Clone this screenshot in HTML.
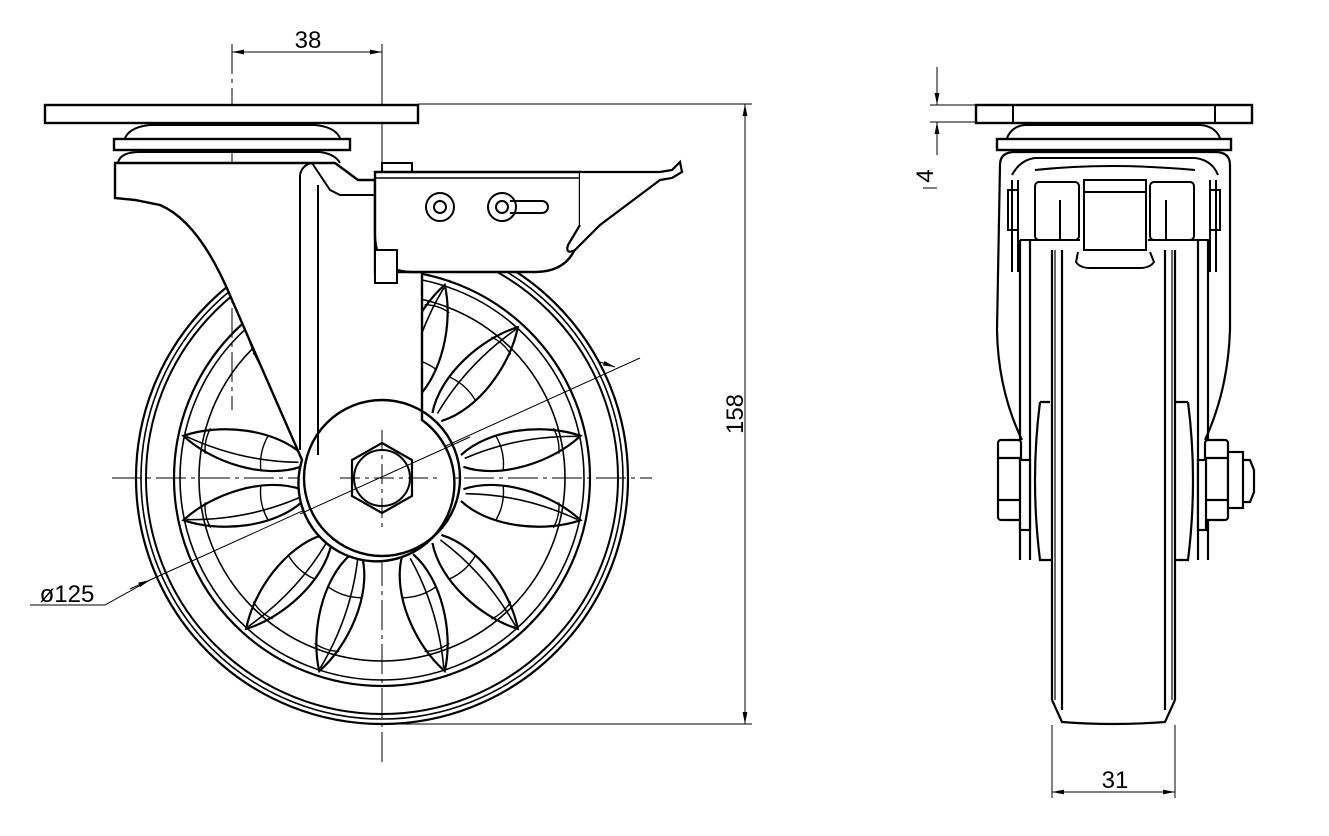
<!DOCTYPE html>
<html><head><meta charset="utf-8"><style>
html,body{margin:0;padding:0;background:#fff}
svg{display:block}
text{font-family:"Liberation Sans",sans-serif;fill:#000}
</style></head><body>
<svg width="1329" height="836" viewBox="0 0 1329 836" xmlns="http://www.w3.org/2000/svg">
<defs>
<marker id="ar" viewBox="0 0 10 4" refX="10" refY="2" markerWidth="12" markerHeight="5" orient="auto-start-reverse" markerUnits="userSpaceOnUse"><path d="M0,0 L10,2 L0,4 Z" fill="#000"/></marker>
<g id="prong">
<path d="M82,-6 C115,-26 170,-20 203,0 C170,20 115,26 82,6" fill="none" stroke="#000" stroke-width="2.2"/>
<path d="M85,-2 C125,-10 165,-8 200,0" fill="none" stroke="#000" stroke-width="1.6"/>
<path d="M178,-13 Q182,0 178,13" fill="none" stroke="#000" stroke-width="1.4"/>
<path d="M120,-18 Q126,0 120,18" fill="none" stroke="#000" stroke-width="1.4"/>
</g>
</defs>
<g stroke="#000" stroke-width="1" fill="none">
<line x1="232" y1="44" x2="232" y2="410" stroke-dasharray="30,5,4,5"/>
<line x1="382" y1="44" x2="382" y2="160"/>
<line x1="382" y1="160" x2="382" y2="762" stroke-dasharray="30,5,4,5"/>
<line x1="232" y1="52" x2="382" y2="52" marker-start="url(#ar)" marker-end="url(#ar)"/>
<line x1="418" y1="104" x2="752" y2="104"/>
<line x1="382" y1="724" x2="752" y2="724"/>
<line x1="745" y1="104" x2="745" y2="724" marker-start="url(#ar)" marker-end="url(#ar)"/>
<line x1="112" y1="478" x2="652" y2="478" stroke-dasharray="30,5,4,5"/>
<polyline points="30,605 105,605 150,580"/>
<line x1="150" y1="580" x2="640" y2="358"/>
</g>
<text x="308" y="48" font-size="24" text-anchor="middle">38</text>
<text x="0" y="0" font-size="24" text-anchor="middle" transform="translate(743,414) rotate(-90)">158</text>
<text x="67" y="602" font-size="24" text-anchor="middle">ø125</text>
<g stroke="#000" fill="none">
<circle cx="382" cy="478" r="246" stroke-width="2.2"/>
<circle cx="382" cy="478" r="241" stroke-width="1.6"/>
<circle cx="382" cy="478" r="236" stroke-width="2"/>
<circle cx="382" cy="478" r="208" stroke-width="2.2"/>
<circle cx="382" cy="478" r="202" stroke-width="1.6"/>
<circle cx="382" cy="478" r="183" stroke-width="1.6"/>
</g>
<path d="M600,362 L615,367" stroke="#000" stroke-width="1" marker-end="url(#ar)"/>
<path d="M150,580 L130,589" stroke="#000" stroke-width="1" marker-start="url(#ar)"/>
<g transform="translate(382,478)">
<use href="#prong" transform="rotate(-12)"/><use href="#prong" transform="rotate(12)"/>
<use href="#prong" transform="rotate(48)"/><use href="#prong" transform="rotate(72)"/>
<use href="#prong" transform="rotate(108)"/><use href="#prong" transform="rotate(132)"/>
<use href="#prong" transform="rotate(168)"/><use href="#prong" transform="rotate(192)"/>
<use href="#prong" transform="rotate(228)"/><use href="#prong" transform="rotate(252)"/>
<use href="#prong" transform="rotate(288)"/><use href="#prong" transform="rotate(312)"/>
</g>
<path d="M115,163 L335,163 L358,180 L375,180 L375,272 L422,272 L422,420 A78,78 0 1 1 302,460 L232,300 Q200,222 160,205 L135,200 L115,198 Z" fill="#fff" stroke="#000" stroke-width="2.4"/>
<line x1="318" y1="185" x2="318" y2="455" stroke="#000" stroke-width="2"/>
<line x1="300" y1="175" x2="300" y2="450" stroke="#000" stroke-width="2"/>
<path d="M300,175 Q302,165 312,163 L330,190 L340,195 L375,195" fill="none" stroke="#000" stroke-width="2"/>
<circle cx="382" cy="478" r="78" fill="none" stroke="#000" stroke-width="2.4"/>
<polygon points="382,443 412,460 412,496 382,513 352,496 352,460" fill="#fff" stroke="#000" stroke-width="2.2"/>
<circle cx="382" cy="478" r="28" fill="none" stroke="#000" stroke-width="2"/>
<g stroke="#000" stroke-width="1" fill="none">
<line x1="382" y1="430" x2="382" y2="530" stroke-dasharray="20,5,4,5"/>
<line x1="340" y1="478" x2="440" y2="478" stroke-dasharray="20,5,4,5"/>
<line x1="300" y1="514" x2="470" y2="437"/>
</g>
<rect x="45" y="105" width="373" height="18" fill="#fff" stroke="#000" stroke-width="2.4"/>
<path d="M125,138 Q130,127 150,125 L315,125 Q335,127 340,138" fill="#fff" stroke="#000" stroke-width="2"/>
<rect x="114" y="139" width="236" height="11" fill="#fff" stroke="#000" stroke-width="2.4"/>
<path d="M118,163 Q120,152 140,152 L320,152 Q335,154 340,163" fill="none" stroke="#000" stroke-width="2"/>
<rect x="382" y="163" width="30" height="9" fill="#fff" stroke="#000" stroke-width="2"/>
<path d="M375,172 L580,172 L580,230 Q575,272 535,272 L412,272 Q375,272 375,235 Z" fill="#fff" stroke="#000" stroke-width="2.4"/>
<line x1="375" y1="178" x2="580" y2="178" stroke="#000" stroke-width="1.6"/>
<path d="M580,172 L660,172 L672,170 L680,162 L682,172 L672,178 L660,180 L600,225 L575,250 Q565,255 568,245 L580,225" fill="#fff" stroke="#000" stroke-width="2.2"/>
<rect x="375" y="250" width="22" height="33" fill="#fff" stroke="#000" stroke-width="2"/>
<circle cx="440" cy="207" r="14" fill="none" stroke="#000" stroke-width="2"/>
<circle cx="440" cy="207" r="6" fill="none" stroke="#000" stroke-width="2"/>
<circle cx="502" cy="207" r="14" fill="none" stroke="#000" stroke-width="2"/>
<circle cx="502" cy="207" r="6" fill="none" stroke="#000" stroke-width="2"/>
<path d="M510,201 L542,201 A6,6 0 0 1 542,213 L510,213" fill="none" stroke="#000" stroke-width="2"/>

<g stroke="#000" stroke-width="1" fill="none">
<line x1="937" y1="67" x2="937" y2="105" marker-end="url(#ar)"/>
<line x1="937" y1="155" x2="937" y2="122" marker-end="url(#ar)"/>
<line x1="930" y1="105" x2="975" y2="105"/>
<line x1="930" y1="122" x2="975" y2="122"/>
<line x1="923" y1="188" x2="937" y2="188"/>
<line x1="1052" y1="725" x2="1052" y2="798"/>
<line x1="1175" y1="725" x2="1175" y2="798"/>
<line x1="1052" y1="792" x2="1175" y2="792" marker-start="url(#ar)" marker-end="url(#ar)"/>
</g>
<text x="0" y="0" font-size="24" text-anchor="middle" transform="translate(933,176) rotate(-90)">4</text>
<text x="1115" y="788" font-size="24" text-anchor="middle">31</text>
<path d="M1022,440 Q998,390 997,330 L1000,165 Q1000,152 1015,152 L1215,152 Q1230,152 1230,165 L1230,330 Q1228,390 1205,440" fill="#fff" stroke="#000" stroke-width="2.2"/>
<rect x="976" y="105" width="276" height="18" fill="#fff" stroke="#000" stroke-width="2.4"/>
<line x1="1013" y1="105" x2="1013" y2="123" stroke="#000" stroke-width="2"/>
<line x1="1215" y1="105" x2="1215" y2="123" stroke="#000" stroke-width="2"/>
<path d="M1007,138 Q1012,126 1025,125 L1200,125 Q1215,126 1220,138" fill="#fff" stroke="#000" stroke-width="2"/>
<rect x="997" y="139" width="234" height="11" fill="#fff" stroke="#000" stroke-width="2.4"/>
<g stroke="#000" stroke-width="2" fill="none">
<path d="M1012,175 Q1020,160 1035,158 L1195,158 Q1212,160 1218,175"/>
<path d="M1035,170 Q1110,162 1195,170"/>
<rect x="1008" y="190" width="10" height="40"/><rect x="1210" y="190" width="10" height="40"/>
<line x1="1012" y1="180" x2="1012" y2="272"/><line x1="1018" y1="180" x2="1018" y2="272"/>
<line x1="1210" y1="180" x2="1210" y2="272"/><line x1="1216" y1="180" x2="1216" y2="272"/>
<rect x="1035" y="182" width="44" height="58" rx="4"/><rect x="1150" y="182" width="44" height="58" rx="4"/>
<rect x="1084" y="180" width="62" height="70"/>
<line x1="1084" y1="192" x2="1146" y2="192"/>
<path d="M1078,252 L1076,262 Q1080,268 1090,268 L1140,268 Q1150,268 1154,262 L1150,252"/>
<line x1="1060" y1="200" x2="1060" y2="240"/><line x1="1166" y1="200" x2="1166" y2="240"/>
<line x1="1020" y1="240" x2="1080" y2="240"/><line x1="1148" y1="240" x2="1210" y2="240"/>
</g>
<g stroke="#000" stroke-width="2.2" fill="none">
<line x1="1020" y1="240" x2="1020" y2="560"/><line x1="1030" y1="240" x2="1030" y2="560"/>
<line x1="1198" y1="240" x2="1198" y2="560"/><line x1="1208" y1="240" x2="1208" y2="560"/>
<line x1="1052" y1="250" x2="1052" y2="700"/><line x1="1062" y1="250" x2="1062" y2="710"/>
<line x1="1165" y1="250" x2="1165" y2="710"/><line x1="1175" y1="250" x2="1175" y2="700"/>
<path d="M1052,700 L1062,722 Q1113,726 1165,722 L1175,700"/>
<line x1="1055" y1="250" x2="1055" y2="700" stroke-width="1.2"/><line x1="1172" y1="250" x2="1172" y2="700" stroke-width="1.2"/>
<path d="M1040,402 Q1030,480 1040,560 L1052,560 M1040,402 L1050,402"/>
<path d="M1188,402 Q1198,480 1188,560 L1175,560 M1188,402 L1176,402"/>
<rect x="998" y="440" width="23" height="80" rx="3" fill="#fff"/>
<line x1="998" y1="458" x2="1021" y2="458"/><line x1="998" y1="500" x2="1021" y2="500"/>
<rect x="1020" y="460" width="10" height="70" fill="#fff"/>
<rect x="1205" y="440" width="23" height="80" rx="3" fill="#fff"/>
<line x1="1205" y1="458" x2="1228" y2="458"/><line x1="1205" y1="500" x2="1228" y2="500"/>
<rect x="1198" y="460" width="8" height="70" fill="#fff"/>
<rect x="1228" y="452" width="15" height="56" fill="#fff"/>
<path d="M1243,460 L1250,460 L1254,470 L1254,492 L1250,502 L1243,502"/>
</g>
</svg>
</body></html>
